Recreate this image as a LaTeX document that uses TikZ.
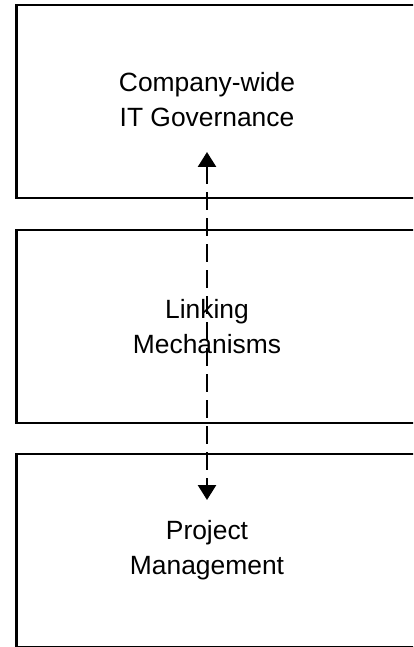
\documentclass[tikz,border=0pt]{standalone}
\usepackage{fontspec}
\setmainfont{Liberation Sans}
\usetikzlibrary{arrows.meta,positioning}

\begin{document}
\begin{tikzpicture}[
  x=1pt, y=1pt, font=\fontsize{26.4}{35}\selectfont, node distance=32pt,
  layer/.style={draw, line width=2.1pt, minimum width=440pt, minimum height=193pt,
                inner sep=0pt, outer sep=0pt},
  lab/.style={align=center, inner sep=0pt},
  ar/.style={{Triangle[width=18pt, length=15pt]}-{Triangle[width=18pt, length=15pt]},
             line width=2.6pt, dash pattern=on 18pt off 8pt}]
\useasboundingbox (0,0) rectangle (413,-647);
\clip (0,0) rectangle (413,-647);
\coordinate (mid) at (207,0);
% the three layers
\node[layer, anchor=north west] (govbox) at (16.5,-5) {};
\node[layer, below=of govbox] (linkbox) {};
\node[layer, below=31pt of linkbox] (pmbox) {};
\node[lab] (gov) at ([yshift=1.5pt]govbox.center -| mid) {Company-wide\\IT Governance};
\node[lab] (link) at (linkbox.center -| mid) {Linking\\Mechanisms};
\node[lab] (pm) at (pmbox.center -| mid) {Project\\Management};
% two-way link across the middle layer
\path (govbox.center -| mid) ++(0,-50.5) coordinate (govend);
\path (pm) ++(0,50.5) coordinate (pmend);
\draw[ar] (govend) -- (pmend);
\end{tikzpicture}
\end{document}
